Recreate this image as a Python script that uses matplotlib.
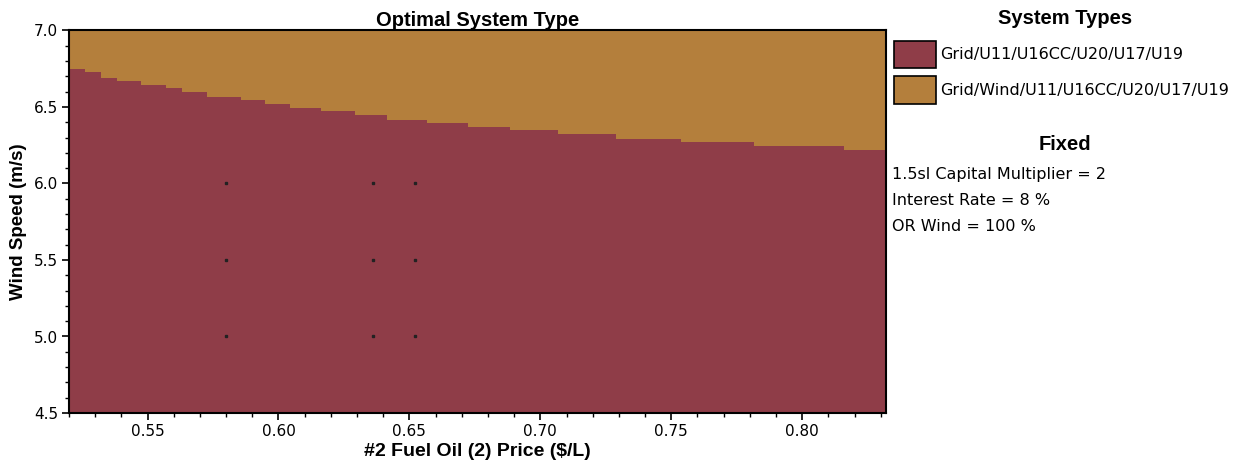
import matplotlib
matplotlib.use("Agg")
import matplotlib.pyplot as plt
from matplotlib.patches import Rectangle
from matplotlib.ticker import MultipleLocator, FormatStrFormatter
import numpy as np

plt.rcParams['font.family'] = ['DejaVu Sans']

# Datos del gráfico
fuel_edges = [0.520, 0.5262, 0.5322, 0.5383, 0.5475, 0.5570, 0.5632, 0.5726,
              0.5855, 0.5949, 0.6045, 0.6163, 0.6291, 0.6414, 0.6569, 0.6724,
              0.6884, 0.7066, 0.7288, 0.7538, 0.7815, 0.8159, 0.832]
wind_boundary = [6.749, 6.727, 6.692, 6.668, 6.644, 6.622, 6.600, 6.566,
                 6.544, 6.518, 6.496, 6.475, 6.450, 6.418, 6.394, 6.370,
                 6.349, 6.326, 6.290, 6.270, 6.244, 6.220]
sens_fuel = [0.580, 0.636, 0.652]
sens_wind = [5.0, 5.5, 6.0]

system_types = ["Grid/U11/U16CC/U20/U17/U19", "Grid/Wind/U11/U16CC/U20/U17/U19"]
system_colors = ["#8F3D48", "#B47F3C"]
fixed_lines = ["1.5sl Capital Multiplier = 2", "Interest Rate = 8 %", "OR Wind = 100 %"]

x_min, x_max = fuel_edges[0], fuel_edges[-1]
y_min, y_max = 4.5, 7.0

bold_font = ['Liberation Sans', 'DejaVu Sans']

fig = plt.figure(figsize=(12.55, 4.65), dpi=100)
ax = fig.add_axes([69 / 1255, 1 - 413 / 465, (886 - 69) / 1255, (413 - 30.5) / 465])

# Regiones (abajo: sistema 1, arriba: sistema 2)
ax.stairs(wind_boundary, fuel_edges, baseline=y_min, fill=True,
          color=system_colors[0], linewidth=0)
ax.stairs([y_max] * len(wind_boundary), fuel_edges, baseline=wind_boundary,
          fill=True, color=system_colors[1], linewidth=0)

# Puntos de sensibilidad
sx, sy = np.meshgrid(sens_fuel, sens_wind)
ax.plot(sx.ravel(), sy.ravel(), "s", color="#222222", markersize=1.6, linestyle="none")

ax.set_xlim(x_min, x_max)
ax.set_ylim(y_min, y_max)
ax.xaxis.set_major_locator(MultipleLocator(0.05))
ax.xaxis.set_minor_locator(MultipleLocator(0.01))
ax.yaxis.set_major_locator(MultipleLocator(0.5))
ax.yaxis.set_minor_locator(MultipleLocator(0.1))
ax.xaxis.set_major_formatter(FormatStrFormatter("%.2f"))
ax.yaxis.set_major_formatter(FormatStrFormatter("%.1f"))
ax.tick_params(which="major", length=5, width=1.2, labelsize=11, pad=3)
ax.tick_params(which="minor", length=3, width=1.0)
for s in ax.spines.values():
    s.set_linewidth(1.5)

ax.set_title("Optimal System Type", fontsize=14.5, fontweight="bold", pad=3,
             family=bold_font)
ax.set_xlabel("#2 Fuel Oil (2) Price ($/L)", fontsize=14, fontweight="bold",
              labelpad=3, family=bold_font)
ax.set_ylabel("Wind Speed (m/s)", fontsize=13.5, fontweight="bold", family=bold_font)
ax.yaxis.set_label_coords((27 - 69) / 817, 0.5)

# Leyenda a la derecha
W, H = 1255, 465
fig.text(1065 / W, 1 - 18 / H, "System Types", ha="center", va="center",
         fontsize=14.5, fontweight="bold", family=bold_font)
for i, (name, col) in enumerate(zip(system_types, system_colors)):
    top = 40.7 + i * 35.5
    fig.patches.append(Rectangle((894 / W, 1 - (top + 27.7) / H), 42 / W, 27.7 / H,
                                 transform=fig.transFigure, facecolor=col,
                                 edgecolor="black", linewidth=1.2))
    fig.text(940 / W, 1 - (top + 14) / H, name, ha="left", va="center", fontsize=11.5)

fig.text(1065 / W, 1 - 144 / H, "Fixed", ha="center", va="center",
         fontsize=14.5, fontweight="bold", family=bold_font)
for i, line in enumerate(fixed_lines):
    fig.text(892 / W, 1 - (175 + i * 25.8) / H, line, ha="left", va="center",
             fontsize=11.5)

fig.savefig("out.png", dpi=100)
